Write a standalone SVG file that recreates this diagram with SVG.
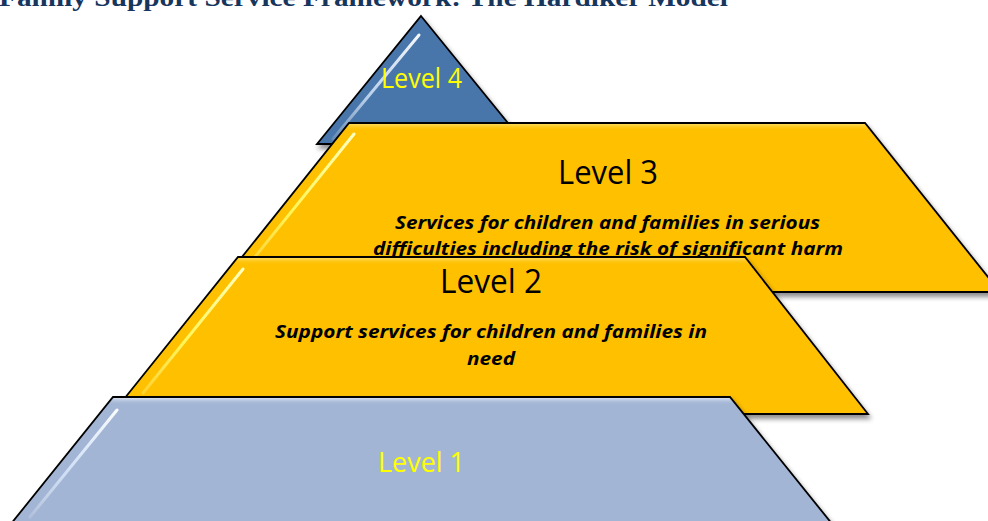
<svg xmlns="http://www.w3.org/2000/svg" width="988" height="521" viewBox="0 0 988 521">
  <defs>
    <filter id="shadow" x="-10%" y="-10%" width="130%" height="130%">
      <feGaussianBlur in="SourceAlpha" stdDeviation="2.5"/>
      <feOffset dx="2" dy="4" result="b"/>
      <feComponentTransfer><feFuncA type="linear" slope="0.45"/></feComponentTransfer>
      <feMerge><feMergeNode/><feMergeNode in="SourceGraphic"/></feMerge>
    </filter>
    <linearGradient id="glintBlue" x1="0" y1="0" x2="0" y2="1">
      <stop offset="0" stop-color="#ffffff" stop-opacity="0.95"/>
      <stop offset="0.6" stop-color="#dcecff" stop-opacity="0.75"/>
      <stop offset="1" stop-color="#ffffff" stop-opacity="0.15"/>
    </linearGradient>
    <linearGradient id="glintGold" x1="0" y1="0" x2="0" y2="1">
      <stop offset="0" stop-color="#ffffc0" stop-opacity="1"/>
      <stop offset="0.6" stop-color="#ffff66" stop-opacity="0.85"/>
      <stop offset="1" stop-color="#ffff99" stop-opacity="0.3"/>
    </linearGradient>
    <linearGradient id="topGoldFade" x1="0" y1="0" x2="0" y2="1">
      <stop offset="0" stop-color="#ffe680" stop-opacity="0.7"/>
      <stop offset="1" stop-color="#ffc000" stop-opacity="0"/>
    </linearGradient>
    <linearGradient id="topBlueFade" x1="0" y1="0" x2="0" y2="1">
      <stop offset="0" stop-color="#e4ebf6" stop-opacity="0.8"/>
      <stop offset="1" stop-color="#a3b5d5" stop-opacity="0"/>
    </linearGradient>
  </defs>
  <style>
    .title { font-family: "Liberation Serif", serif; font-weight: bold; font-size: 26px; fill: #17365d; }
    .edge { stroke: #000; stroke-width: 1.8; stroke-linejoin: miter; }
    .blue { fill: #4a76aa; }
    .gold { fill: #ffc000; }
    .pale { fill: #a3b5d5; }
    .lvlY { font-family: "Open Sans", "Noto Sans", sans-serif; fill: #ffff00; font-size: 28px; text-anchor: middle; }
    .lvlK { font-family: "Open Sans", "Noto Sans", sans-serif; fill: #000; font-size: 32px; text-anchor: middle; }
    .desc { font-family: "Open Sans", "Noto Sans", sans-serif; fill: #000; font-size: 18px; font-weight: bold; font-style: italic; text-anchor: middle; }
    .glint { fill: none; stroke-width: 3; stroke-linecap: round; }
  </style>

  <!-- heading, partly above the page edge -->
  <text class="title" x="-1" y="6" textLength="729" lengthAdjust="spacingAndGlyphs">Family Support Service Framework: The Hardiker Model</text>

  <!-- tier 4: apex triangle -->
  <g id="level4">
    <polygon class="blue edge" points="421,16 525,144 317,144" filter="url(#shadow)"/>
    <line class="glint" x1="419" y1="35" x2="333" y2="139" stroke="url(#glintBlue)"/>
    <text class="lvlY" x="421.5" y="88" textLength="81" lengthAdjust="spacingAndGlyphs">Level 4</text>
  </g>

  <!-- tier 3 -->
  <g id="level3">
    <polygon class="gold edge" points="349,123 865,123 1000,292 214,292" filter="url(#shadow)"/>
    <polygon points="350,124 864,124 871,131 345,131" fill="url(#topGoldFade)"/>
    <line class="glint" x1="354" y1="134" x2="250" y2="263" stroke="url(#glintGold)"/>
    <text class="lvlK" x="608" y="184" textLength="100" lengthAdjust="spacingAndGlyphs">Level 3</text>
    <text class="desc" x="607.5" y="229" textLength="425" lengthAdjust="spacingAndGlyphs">Services for children and families in serious</text>
    <text class="desc" x="608" y="255" textLength="470" lengthAdjust="spacingAndGlyphs">difficulties including the risk of significant harm</text>
  </g>

  <!-- tier 2 -->
  <g id="level2">
    <polygon class="gold edge" points="238,257 745,257 868,414 112,414" filter="url(#shadow)"/>
    <polygon points="239,258 744,258 750,265 234,265" fill="url(#topGoldFade)"/>
    <line class="glint" x1="243" y1="269" x2="143" y2="393" stroke="url(#glintGold)"/>
    <text class="lvlK" x="491" y="293" textLength="102" lengthAdjust="spacingAndGlyphs">Level 2</text>
    <text class="desc" x="491" y="338" textLength="432" lengthAdjust="spacingAndGlyphs">Support services for children and families in</text>
    <text class="desc" x="491" y="365" textLength="48" lengthAdjust="spacingAndGlyphs">need</text>
  </g>

  <!-- tier 1: base -->
  <g id="level1">
    <polygon class="pale edge" points="113,397 730,397 845,540 -2,540" filter="url(#shadow)"/>
    <polygon points="114,398 729,398 735,405 109,405" fill="url(#topBlueFade)"/>
    <line class="glint" x1="117" y1="410" x2="30" y2="517" stroke="url(#glintBlue)"/>
    <text class="lvlY" x="421.5" y="472" textLength="87" lengthAdjust="spacingAndGlyphs">Level 1</text>
  </g>
</svg>
